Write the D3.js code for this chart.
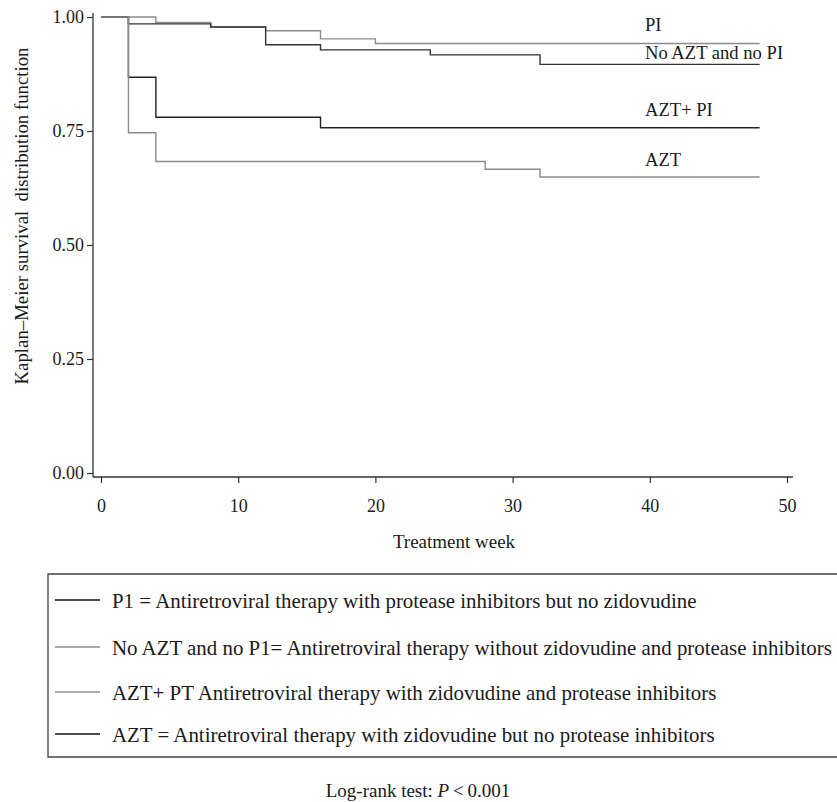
<!DOCTYPE html>
<html>
<head>
<meta charset="utf-8">
<script src="https://cdn.jsdelivr.net/npm/d3@7"></script>
<style>
  body { margin: 0; background: #fff; }
  svg { display: block; font-family: "Liberation Serif", "Times New Roman", serif; }
</style>
</head>
<body>
<svg id="chart" width="837" height="802"></svg>
<script>
// survival step data: [week, survival]
const piData = [[0, 1], [4, 0.988], [8, 0.978], [12, 0.970], [16, 0.952], [20, 0.942], [48, 0.942]];
const noAztData = [[0, 1], [2, 0.985], [8, 0.978], [12, 0.939], [16, 0.928], [24, 0.917], [32, 0.896], [48, 0.896]];
const aztPiData = [[0, 1], [2, 0.868], [4, 0.780], [16, 0.757], [48, 0.757]];
const aztData = [[0, 1], [2, 0.746], [4, 0.683], [28, 0.666], [32, 0.649], [48, 0.649]];

const curveNames = ["PI", "No AZT and no PI", "AZT+ PI", "AZT"];
const curveLabelY = [0.970, 0.908, 0.783, 0.673];

const xTicks = [0, 10, 20, 30, 40, 50];
const yTicks = [0, 0.25, 0.5, 0.75, 1];

const legendTexts = [
  "P1 = Antiretroviral therapy with protease inhibitors but no zidovudine",
  "No AZT and no P1= Antiretroviral therapy without zidovudine and protease inhibitors",
  "AZT+ PT Antiretroviral therapy with zidovudine and protease inhibitors",
  "AZT = Antiretroviral therapy with zidovudine but no protease inhibitors"
];

var svg = d3.select("#chart");
var ink = "#1a1a1a";

var x = d3.scaleLinear().domain([0, 50]).range([101, 787]);
var y = d3.scaleLinear().domain([0, 1]).range([473, 17]);

var axisX = 93, axisY = 477;

// axis lines (offset from the data origin like the original)
svg.append("line")
  .attr("x1", axisX).attr("y1", 13).attr("x2", axisX).attr("y2", axisY)
  .attr("stroke", "#333").attr("stroke-width", 1.3);
svg.append("line")
  .attr("x1", axisX).attr("y1", axisY).attr("x2", 793).attr("y2", axisY)
  .attr("stroke", "#333").attr("stroke-width", 1.3);

var gy = svg.append("g")
  .attr("transform", "translate(" + axisX + ",0)")
  .call(d3.axisLeft(y).tickValues(yTicks).tickFormat(d3.format(".2f")).tickSize(6).tickPadding(3));
gy.select(".domain").remove();

var gx = svg.append("g")
  .attr("transform", "translate(0," + axisY + ")")
  .call(d3.axisBottom(x).tickValues(xTicks).tickSize(6).tickPadding(16));
gx.select(".domain").remove();

svg.selectAll(".tick line").attr("stroke", "#333").attr("stroke-width", 1.2);
svg.selectAll(".tick text")
  .attr("fill", ink)
  .style("font-family", "'Liberation Serif', serif")
  .style("font-size", "18px");

// axis titles
svg.append("text")
  .attr("transform", "translate(28,216) rotate(-90)")
  .attr("text-anchor", "middle")
  .attr("fill", ink)
  .style("font-size", "18.8px")
  .text("Kaplan\u2013Meier survival\u00a0 distribution function");

svg.append("text")
  .attr("x", 454).attr("y", 548)
  .attr("text-anchor", "middle")
  .attr("fill", ink)
  .style("font-size", "19px")
  .text("Treatment week");

// curves
var series = [
  { data: piData, color: "#8c8c8c" },
  { data: noAztData, color: "#333333" },
  { data: aztPiData, color: "#222222" },
  { data: aztData, color: "#8c8c8c" }
];

var line = d3.line()
  .x(d => x(d[0]))
  .y(d => y(d[1]))
  .curve(d3.curveStepAfter);

svg.append("g").selectAll("path")
  .data(series)
  .join("path")
  .attr("d", d => line(d.data))
  .attr("fill", "none")
  .attr("stroke", d => d.color)
  .attr("stroke-width", 1.4);

svg.append("g").selectAll("text")
  .data(curveNames)
  .join("text")
  .attr("x", 645)
  .attr("y", (d, i) => y(curveLabelY[i]))
  .attr("fill", ink)
  .style("font-size", "18.6px")
  .text(d => d);

// legend box
svg.append("path")
  .attr("d", "M842,574 H48 V757 H842")
  .attr("fill", "none")
  .attr("stroke", "#444")
  .attr("stroke-width", 1.3);

var legendColors = ["#111", "#8c8c8c", "#8c8c8c", "#111"];
var legendRowY = [601, 648, 693, 735];

var items = svg.append("g").selectAll("g")
  .data(legendTexts)
  .join("g")
  .attr("transform", (d, i) => "translate(0," + legendRowY[i] + ")");

items.append("line")
  .attr("x1", 55).attr("x2", 100)
  .attr("y1", -1).attr("y2", -1)
  .attr("stroke", (d, i) => legendColors[i])
  .attr("stroke-width", 1.3);

items.append("text")
  .attr("x", 112).attr("y", 7)
  .attr("fill", ink)
  .style("font-size", "20.9px")
  .text(d => d);

// footnote
var foot = svg.append("text")
  .attr("x", 418).attr("y", 797)
  .attr("text-anchor", "middle")
  .attr("fill", ink)
  .style("font-size", "19px");
foot.append("tspan").text("Log-rank test: ");
foot.append("tspan").style("font-style", "italic").text("P");
foot.append("tspan").text("\u2009<\u20090.001");
</script>
</body>
</html>
